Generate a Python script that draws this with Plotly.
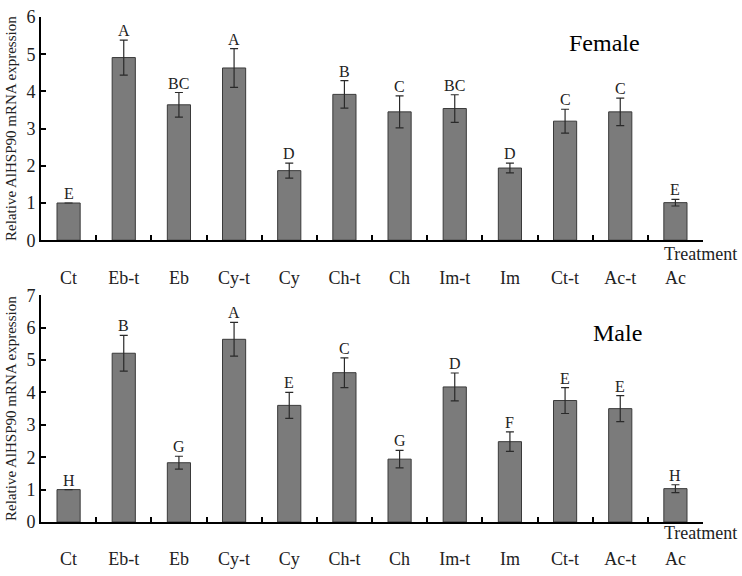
import plotly.graph_objects as go

categories = ["Ct", "Eb-t", "Eb", "Cy-t", "Cy", "Ch-t", "Ch", "Im-t", "Im", "Ct-t", "Ac-t", "Ac"]

female_values = [1.0, 4.91, 3.64, 4.63, 1.87, 3.92, 3.45, 3.54, 1.94, 3.20, 3.45, 1.01]
female_errors = [0.0, 0.47, 0.33, 0.52, 0.20, 0.37, 0.43, 0.37, 0.13, 0.32, 0.37, 0.09]
female_letters = ["E", "A", "BC", "A", "D", "B", "C", "BC", "D", "C", "C", "E"]

male_values = [1.0, 5.21, 1.83, 5.64, 3.60, 4.61, 1.94, 4.17, 2.48, 3.75, 3.50, 1.03]
male_errors = [0.0, 0.55, 0.20, 0.52, 0.40, 0.46, 0.27, 0.43, 0.30, 0.40, 0.40, 0.12]
male_letters = ["H", "B", "G", "A", "E", "C", "G", "D", "F", "E", "E", "H"]

FONT = "Liberation Serif"
BAR_FILL = "#7b7b7b"
BAR_LINE = "#3a3a3a"

fig = go.Figure()

for vals, errs, xa, ya in [(female_values, female_errors, "x", "y"),
                           (male_values, male_errors, "x2", "y2")]:
    fig.add_trace(go.Bar(
        x=categories, y=vals, xaxis=xa, yaxis=ya, width=0.42,
        marker=dict(color=BAR_FILL, line=dict(color=BAR_LINE, width=1)),
        error_y=dict(type="data", array=errs, visible=True,
                     color="#2a2a2a", thickness=1.2, width=4),
        showlegend=False, hoverinfo="skip",
    ))

annotations = []
for vals, errs, letters, xr, yr in [(female_values, female_errors, female_letters, "x", "y"),
                                    (male_values, male_errors, male_letters, "x2", "y2")]:
    for c, v, e, L in zip(categories, vals, errs, letters):
        annotations.append(dict(x=c, y=v + e, xref=xr, yref=yr, text=L,
                                showarrow=False, yanchor="bottom", yshift=-1,
                                font=dict(family=FONT, size=16, color="#222")))

annotations += [
    dict(x=0.908, y=0.979, xref="paper", yref="paper", text="Female", showarrow=False,
         font=dict(family=FONT, size=24, color="black")),
    dict(x=0.911, y=0.374, xref="paper", yref="paper", text="Male", showarrow=False,
         font=dict(family=FONT, size=24, color="black")),
    dict(x=1.054, y=0.531, xref="paper", yref="paper", text="Treatment", showarrow=False,
         xanchor="right", yanchor="middle", font=dict(family=FONT, size=18, color="#222")),
    dict(x=1.054, y=-0.021, xref="paper", yref="paper", text="Treatment", showarrow=False,
         xanchor="right", yanchor="middle", font=dict(family=FONT, size=18, color="#222")),
]

xcommon = dict(type="category", showline=True, linecolor="black", linewidth=1.6,
               ticks="inside", tickson="boundaries", ticklen=5, tickcolor="black",
               tickwidth=1.5, showgrid=False, zeroline=False, ticklabelstandoff=20,
               tickfont=dict(family=FONT, size=18, color="#222"))
ytitle = dict(text="Relative AlHSP90 mRNA expression",
              font=dict(family=FONT, size=15, color="#222"), standoff=6)
ycommon = dict(showline=True, linecolor="black", linewidth=1.6, ticks="inside",
               ticklen=5, tickcolor="black", tickwidth=1.5, showgrid=False,
               zeroline=False, dtick=1,
               tickfont=dict(family=FONT, size=18, color="#222"))

fig.update_layout(
    width=742, height=576,
    margin=dict(l=41, r=39, t=7, b=42),
    paper_bgcolor="white", plot_bgcolor="white",
    bargap=0.58,
    font=dict(family=FONT),
    xaxis=dict(domain=[0, 1], anchor="y", **xcommon),
    yaxis=dict(domain=[0.558, 1.0], anchor="x", range=[0, 6], title=ytitle, **ycommon),
    xaxis2=dict(domain=[0, 1], anchor="y2", **xcommon),
    yaxis2=dict(domain=[0.0, 0.449], anchor="x2", range=[0, 7], title=ytitle, **ycommon),
    annotations=annotations,
)

fig.write_html("out.html", config={"displayModeBar": False},
               post_script="document.body.style.margin='0px';document.body.style.overflow='hidden';")
